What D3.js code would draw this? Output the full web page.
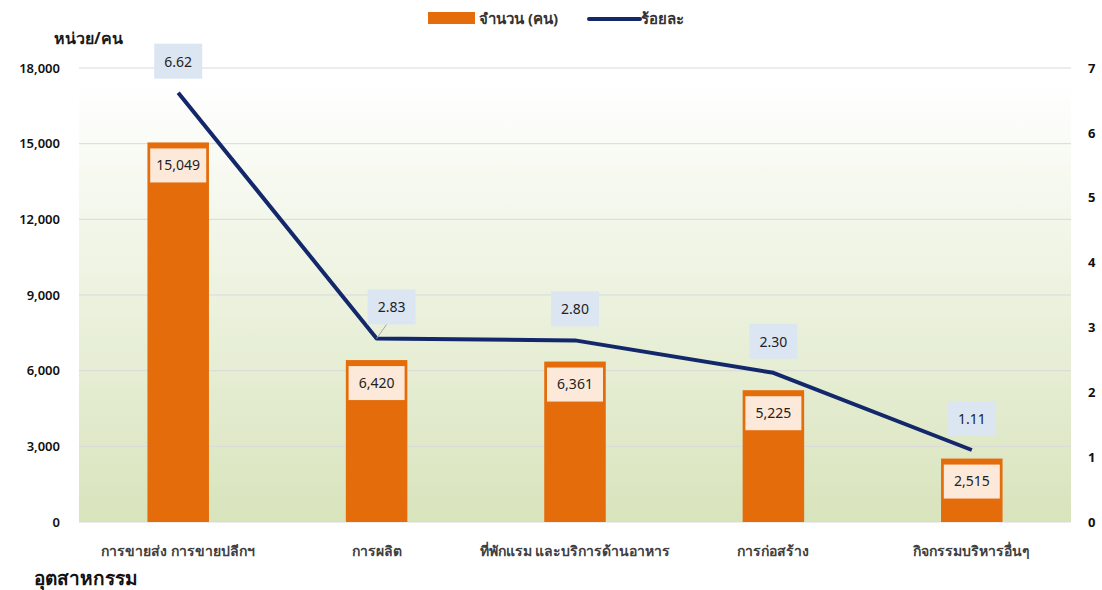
<!DOCTYPE html>
<html>
<head>
<meta charset="utf-8">
<script src="https://cdn.jsdelivr.net/npm/d3@7"></script>
<style>
  body { margin: 0; background: #fff; }
  text { font-family: Tahoma, "Noto Sans", "DejaVu Sans", sans-serif; }
</style>
</head>
<body>
<svg id="chart" width="1102" height="590"></svg>
<script>
const categories = ["การขายส่ง การขายปลีกฯ", "การผลิต", "ที่พักแรม และบริการด้านอาหาร", "การก่อสร้าง", "กิจกรรมบริหารอื่นๆ"];
const counts = [15049, 6420, 6361, 5225, 2515];
const percents = [6.62, 2.83, 2.80, 2.30, 1.11];
const leftTicks = [0, 3000, 6000, 9000, 12000, 15000, 18000];
const rightTicks = [0, 1, 2, 3, 4, 5, 6, 7];

const svg = d3.select("#chart");
const m = {left: 79, right: 1071, top: 68, bottom: 522};

const x = d3.scaleBand().domain(categories).range([m.left, m.right]).paddingInner(0.69).paddingOuter(0.345);
const y = d3.scaleLinear().domain([0, 18000]).range([m.bottom, m.top]);
const y2 = d3.scaleLinear().domain([0, 7]).range([m.bottom, m.top]);

// background gradient
const defs = svg.append("defs");
const grad = defs.append("linearGradient").attr("id", "bg").attr("x1", 0).attr("y1", 0).attr("x2", 0).attr("y2", 1);
grad.append("stop").attr("offset", "0%").attr("stop-color", "#ffffff");
grad.append("stop").attr("offset", "100%").attr("stop-color", "#d8e4bc");
svg.append("rect")
  .attr("x", m.left).attr("y", 84)
  .attr("width", m.right - m.left).attr("height", m.bottom - 84)
  .attr("fill", "url(#bg)");

// gridlines
svg.append("g").selectAll("line")
  .data(leftTicks)
  .enter().append("line")
  .attr("x1", m.left).attr("x2", m.right)
  .attr("y1", d => y(d)).attr("y2", d => y(d))
  .attr("stroke", "#d9d9d9").attr("stroke-width", 1);

// left axis
const la = svg.append("g").attr("transform", "translate(60,0)")
  .call(d3.axisLeft(y).tickValues(leftTicks).tickFormat(d3.format(",")).tickSize(0).tickPadding(0));
la.select(".domain").remove();
la.selectAll("text").attr("font-size", 13).attr("fill", "#111").attr("font-weight", 600)
  .style("font-family", "Tahoma, 'Noto Sans', 'DejaVu Sans', sans-serif");

// right axis
const ra = svg.append("g").attr("transform", "translate(1088,0)")
  .call(d3.axisRight(y2).tickValues(rightTicks).tickFormat(d3.format("d")).tickSize(0).tickPadding(0));
ra.select(".domain").remove();
ra.selectAll("text").attr("font-size", 13).attr("fill", "#111").attr("font-weight", "bold")
  .style("font-family", "Tahoma, 'Noto Sans', 'DejaVu Sans', sans-serif");

// axis title
svg.append("text").attr("x", 54).attr("y", 44).attr("font-size", 16).attr("font-weight", "bold")
  .attr("fill", "#1a1a1a").text("หน่วย/คน");

// bars
svg.append("g").selectAll("rect")
  .data(counts)
  .enter().append("rect")
  .attr("x", (d, i) => x(categories[i]))
  .attr("y", d => y(d))
  .attr("width", x.bandwidth())
  .attr("height", d => y(0) - y(d))
  .attr("fill", "#e46c0a");

// bar labels
const bl = svg.append("g").selectAll("g")
  .data(counts)
  .enter().append("g")
  .attr("transform", (d, i) => "translate(" + (x(categories[i]) + x.bandwidth() / 2) + "," + (y(d) + 23) + ")");
bl.append("rect").attr("x", -28).attr("y", -17).attr("width", 56).attr("height", 34).attr("fill", "#fde9d9");
bl.append("text").attr("text-anchor", "middle").attr("dy", "0.35em").attr("font-size", 14)
  .attr("fill", "#222").text(d => d3.format(",")(d));

// line
const line = d3.line()
  .x((d, i) => x(categories[i]) + x.bandwidth() / 2)
  .y(d => y2(d));
svg.append("path").datum(percents)
  .attr("d", line)
  .attr("fill", "none").attr("stroke", "#13286b").attr("stroke-width", 4)
  .attr("stroke-linejoin", "round");

// line labels
const lx = [0, 15, 0, 0, 0];
const pl = svg.append("g").selectAll("g")
  .data(percents)
  .enter().append("g")
  .attr("transform", (d, i) => "translate(" + (x(categories[i]) + x.bandwidth() / 2 + lx[i]) + "," + (y2(d) - 31) + ")");
pl.append("line").attr("x1", 0).attr("y1", 10).attr("x2", (d, i) => -lx[i]).attr("y2", 31)
  .attr("stroke", (d, i) => lx[i] ? "#a6a6a6" : "none");
pl.append("rect").attr("x", -24).attr("y", -18).attr("width", 48).attr("height", 35).attr("fill", "#dce6f2");
pl.append("text").attr("text-anchor", "middle").attr("dy", "0.35em").attr("font-size", 14)
  .attr("fill", "#222").text(d => d3.format(".2f")(d));

// category labels
svg.append("g").selectAll("text")
  .data(categories)
  .enter().append("text")
  .attr("x", d => x(d) + x.bandwidth() / 2)
  .attr("y", 556)
  .attr("text-anchor", "middle").attr("font-size", 14).attr("font-weight", 600).attr("fill", "#404040")
  .text(d => d);

svg.append("text").attr("x", 34).attr("y", 585).attr("font-size", 19).attr("font-weight", 600)
  .attr("fill", "#111").text("อุตสาหกรรม");

// legend
const lg = svg.append("g");
lg.append("rect").attr("x", 428).attr("y", 12).attr("width", 47).attr("height", 12).attr("fill", "#e46c0a");
lg.append("text").attr("x", 479).attr("y", 24).attr("font-size", 15).attr("font-weight", "bold").attr("fill", "#333").text("จำนวน (คน)");
lg.append("line").attr("x1", 589).attr("x2", 640).attr("y1", 19).attr("y2", 19)
  .attr("stroke", "#13286b").attr("stroke-width", 4).attr("stroke-linecap", "round");
lg.append("text").attr("x", 641).attr("y", 24).attr("font-size", 15).attr("font-weight", "bold").attr("fill", "#333").text("ร้อยละ");
</script>
</body>
</html>
